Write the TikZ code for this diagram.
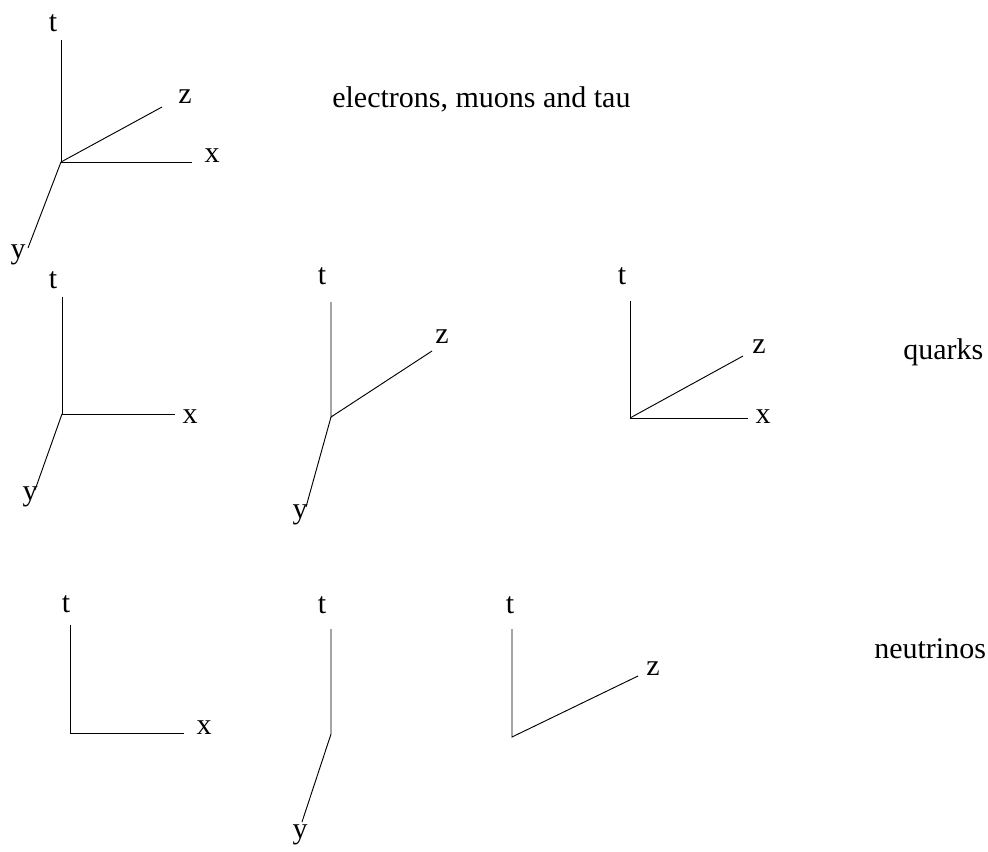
\documentclass[tikz,border=0pt]{standalone}
\usepackage{fontspec}
\setmainfont{Liberation Serif}
\begin{document}
\begin{tikzpicture}[x=0.75pt,y=-0.75pt,
  axis/.style={line width=0.7pt,black},
  lab/.style={inner sep=0pt,anchor=base,font=\fontsize{22.5}{26}\selectfont},
  captext/.style={inner sep=0pt,anchor=base west,font=\fontsize{22.5}{26}\selectfont}]
\useasboundingbox (0,0) rectangle (988,851);
% group 1
\coordinate (o1) at (61,162);
\coordinate (t1) at (61,40);
\coordinate (z1) at (162,107);
\coordinate (x1) at (192,162);
\coordinate (y1) at (28,248);
\draw[axis] (t1) -- (o1) -- (x1);
\draw[axis] (o1) -- (z1);
\draw[axis] (o1) -- (y1);
\node[lab] (lt1) at (53,31) {t};
\node[lab] (lz1) at (185,103) {z};
\node[lab] (lx1) at (212,162) {x};
\node[lab] (ly1) at (18,258) {y};
\node[captext] (c1) at (332,107) {electrons, muons and tau};
% group 2a
\coordinate (o2) at (62,414);
\coordinate (t2) at (62,297);
\coordinate (x2) at (175,414);
\coordinate (y2) at (35,490);
\draw[axis] (t2) -- (o2) -- (x2);
\draw[axis] (o2) -- (y2);
\node[lab] (lt2) at (53,288) {t};
\node[lab] (lx2) at (190,423) {x};
\node[lab] (ly2) at (30,500) {y};
% group 2b
\coordinate (o3) at (331,417);
\coordinate (t3) at (331,302);
\coordinate (z3) at (432,351);
\coordinate (y3) at (306,507);
\draw[axis] (t3) -- (o3) -- (z3);
\draw[axis] (o3) -- (y3);
\node[lab] (lt3) at (322,284) {t};
\node[lab] (lz3) at (442,343) {z};
\node[lab] (ly3) at (300,518) {y};
% group 2c
\coordinate (o4) at (630,418);
\coordinate (t4) at (630,301);
\coordinate (z4) at (743,356);
\coordinate (x4) at (748,418);
\draw[axis] (t4) -- (o4) -- (x4);
\draw[axis] (o4) -- (z4);
\node[lab] (lt4) at (622,284) {t};
\node[lab] (lz4) at (759,353) {z};
\node[lab] (lx4) at (763,423) {x};
\node[captext] (c2) at (903,359) {quarks};
% group 3a
\coordinate (o5) at (70,733);
\coordinate (t5) at (70,625);
\coordinate (x5) at (184,733);
\draw[axis] (t5) -- (o5) -- (x5);
\node[lab] (lt5) at (66,612) {t};
\node[lab] (lx5) at (204,734) {x};
% group 3b
\coordinate (o6) at (331,734);
\coordinate (t6) at (331,629);
\coordinate (y6) at (302,822);
\draw[axis] (t6) -- (o6) -- (y6);
\node[lab] (lt6) at (322,613) {t};
\node[lab] (ly6) at (300,838) {y};
% group 3c
\coordinate (o7) at (512,737);
\coordinate (t7) at (512,629);
\coordinate (z7) at (638,676);
\draw[axis] (t7) -- (o7) -- (z7);
\node[lab] (lt7) at (510,613) {t};
\node[lab] (lz7) at (653,675) {z};
\node[captext] (c3) at (874,658) {neutrinos};
\end{tikzpicture}
\end{document}
